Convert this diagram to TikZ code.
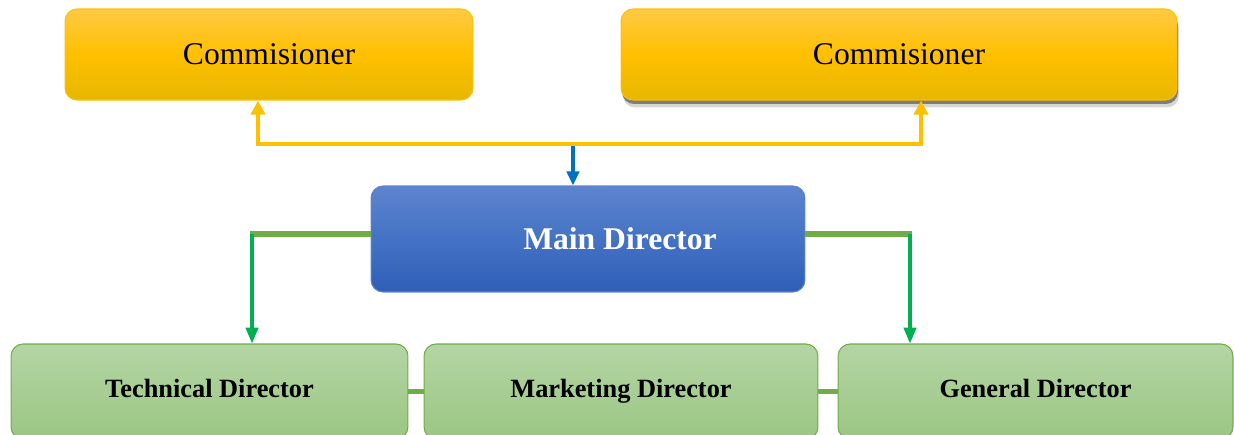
\documentclass[tikz,border=0pt]{standalone}
\usepackage{fontspec}
\setmainfont{Liberation Serif}
\usepackage{tikz}
\usetikzlibrary{arrows.meta,shadows}

\definecolor{ytop}{HTML}{FFC943}
\definecolor{ymid}{HTML}{FFC000}
\definecolor{ybot}{HTML}{E6B700}
\definecolor{btop}{HTML}{5E84CE}
\definecolor{bmid}{HTML}{4472C4}
\definecolor{bbot}{HTML}{2F5EB8}
\definecolor{gtop}{HTML}{B4D5A4}
\definecolor{gbot}{HTML}{9AC683}
\definecolor{olive}{HTML}{70AD47}
\definecolor{brightgreen}{HTML}{00B050}
\definecolor{linkblue}{HTML}{0070C0}

\begin{document}
\begin{tikzpicture}[x=0.02cm, y=-0.02cm,
  box/.style={rounded corners=0.24cm, inner sep=0pt},
  combox/.style={box, draw=ymid, line width=0.6pt, top color=ytop, bottom color=ybot, middle color=ymid,
    minimum height=1.82cm, font=\fontsize{18}{22}\selectfont},
  mainbox/.style={box, draw=btop, line width=0.6pt, top color=btop, bottom color=bbot, middle color=bmid,
    minimum width=8.68cm, minimum height=2.12cm, text=white, font=\fontsize{18}{22}\selectfont\bfseries},
  subbox/.style={box, draw=olive, line width=0.6pt, top color=gtop, bottom color=gbot,
    minimum height=1.9cm, text height=10.5pt, text depth=3.5pt, font=\fontsize{15}{18}\selectfont\bfseries},
  ylink/.style={draw=ymid, line width=2.8pt, {Triangle[width=8pt,length=8pt]}-{Triangle[width=8pt,length=8pt]}},
  blink/.style={draw=linkblue, line width=2.2pt, -{Triangle[width=7pt,length=8pt]}},
  glink/.style={draw=brightgreen, line width=1.8pt, -{Triangle[width=7pt,length=9pt]}},
  olink/.style={draw=olive, line width=3pt}]
  \useasboundingbox (0,0) rectangle (1234,434);

  \node[combox, minimum width=8.16cm] (com1) at (269,54.5) {Commisioner};
  \node[combox, minimum width=11.12cm,
    drop shadow={fill=black!80, opacity=0.2, shadow xshift=0.04cm, shadow yshift=-0.15cm},
    drop shadow={fill=black!80, opacity=0.55, shadow xshift=0.02cm, shadow yshift=-0.08cm}] (com2) at (899,54.5) {Commisioner};
  \node[mainbox] (main) at (588,239) {\hspace*{1.28cm}Main Director};
  \node[subbox, minimum width=7.94cm] (tech) at (209.5,391.5) {Technical Director};
  \node[subbox, minimum width=7.88cm] (mkt) at (621,391.5) {Marketing Director};
  \node[subbox, minimum width=7.9cm] (gen) at (1035.5,391.5) {General Director};

  \coordinate (ya) at (258,144);
  \coordinate (yb) at (921,144);
  \coordinate (bt) at (573,146);
  \coordinate (gl) at (252,234);
  \coordinate (gr) at (910,234);

  \draw[ylink] (com1.south -| ya) -- (ya) -- (yb) -- (com2.south -| yb);
  \draw[blink] (bt) -- (bt |- main.north);
  \draw[olink] (main.west |- gl) -- ([xshift=-0.9pt]gl);
  \draw[olink] (main.east |- gr) -- ([xshift=0.9pt]gr);
  \draw[glink] (gl) -- (gl |- tech.north);
  \draw[glink] (gr) -- (gr |- gen.north);
  \draw[olink] (tech.east) -- (mkt.west);
  \draw[olink] (mkt.east) -- (gen.west);
\end{tikzpicture}
\end{document}
